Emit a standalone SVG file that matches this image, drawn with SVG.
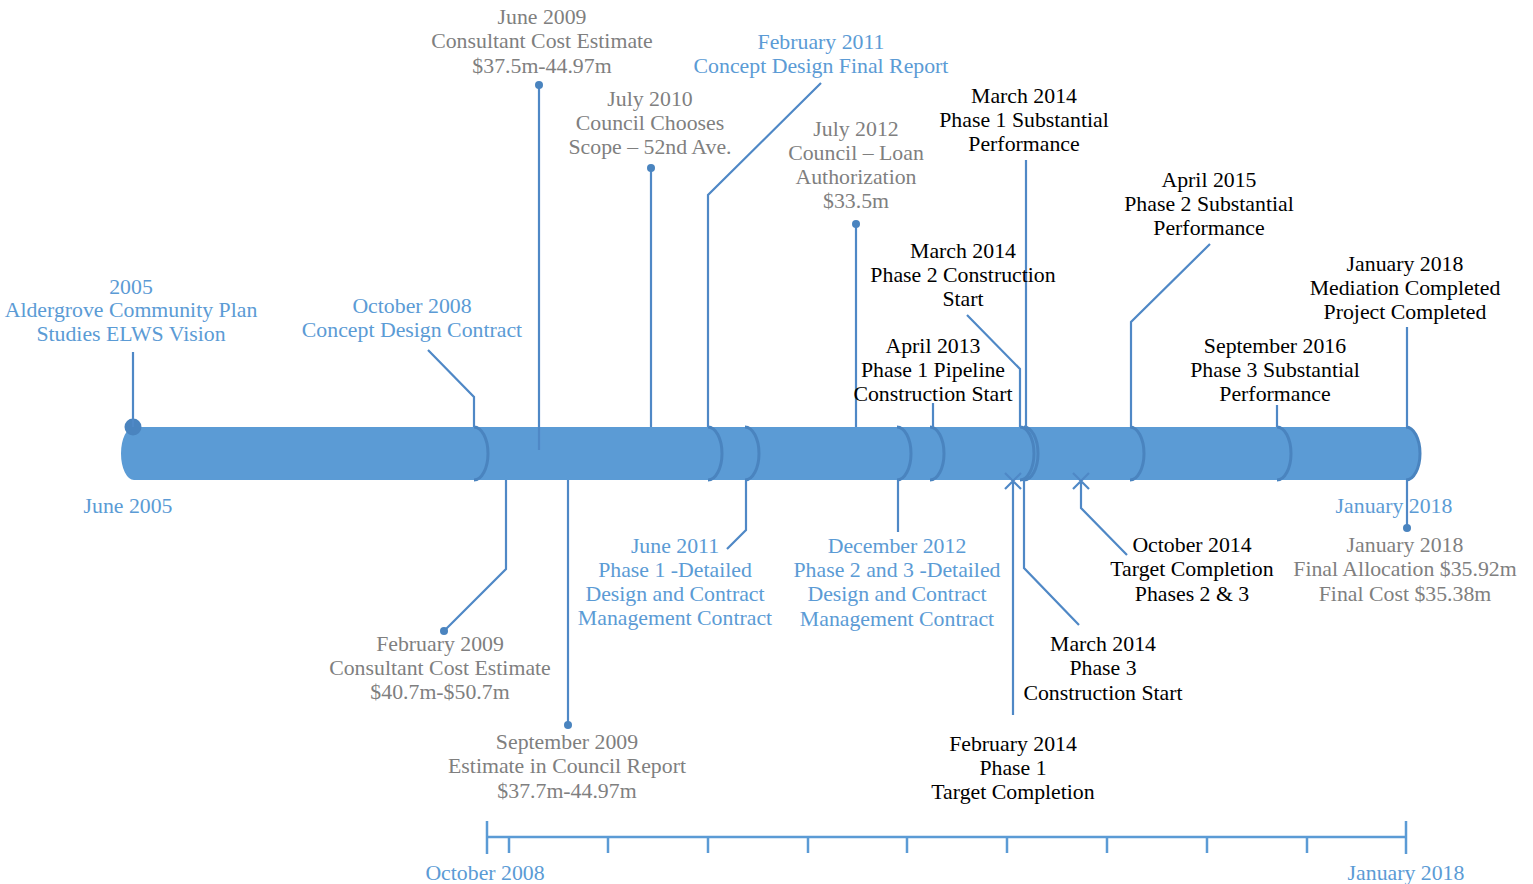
<svg xmlns="http://www.w3.org/2000/svg" width="1533" height="884" viewBox="0 0 1533 884">
<style>
text{font-family:"Liberation Serif","DejaVu Serif",serif;font-size:21.8px;text-anchor:middle}
.b{fill:#5b9bd5}.g{fill:#7f7f7f}.k{fill:#000}
.c{fill:none;stroke:#4f88c6;stroke-width:2.2}
.d{fill:#4a84bf}
.div{fill:none;stroke:#4a84bf;stroke-width:3}
.ax{fill:none;stroke:#5b9bd5;stroke-width:2.5}
</style>
<g id="bar">
<path d="M134,427 L1406,427 A14,26.5 0 0 1 1406,480 L134,480 A13,26.5 0 0 1 134,427 Z" fill="#5b9bd5"/>
<path class="div" d="M474,427 A14,26.5 0 0 1 474,480"/>
<path class="div" d="M708,427 A14,26.5 0 0 1 708,480"/>
<path class="div" d="M745,427 A14,26.5 0 0 1 745,480"/>
<path class="div" d="M897,427 A14,26.5 0 0 1 897,480"/>
<path class="div" d="M930,427 A14,26.5 0 0 1 930,480"/>
<path class="div" d="M1020,427 A14,26.5 0 0 1 1020,480"/>
<path class="div" d="M1024,427 A14,26.5 0 0 1 1024,480"/>
<path class="div" d="M1130,427 A14,26.5 0 0 1 1130,480"/>
<path class="div" d="M1277,427 A14,26.5 0 0 1 1277,480"/>
<path class="div" d="M1406,427 A14,26.5 0 0 1 1406,480"/>
<circle class="d" cx="133" cy="427" r="8.5"/>
</g>
<g id="connectors">
<path class="c" d="M133,352 V427"/>
<path class="c" d="M428,350 L474,397 V427"/>
<path class="c" d="M539,85 V450"/>
<path class="c" d="M651,168 V427"/>
<path class="c" d="M821,83 L708,195 V427"/>
<path class="c" d="M856,224 V427"/>
<path class="c" d="M967,315 L1020,369 V427"/>
<path class="c" d="M1026,160 V427"/>
<path class="c" d="M933,403 V427"/>
<path class="c" d="M1210,244 L1131,322 V427"/>
<path class="c" d="M1277,405 V427"/>
<path class="c" d="M1407,327 V427"/>
<path class="c" d="M444,631 L506,569 V480"/>
<path class="c" d="M568,725 V480"/>
<path class="c" d="M727,549 L746,530 V480"/>
<path class="c" d="M898,480 V532"/>
<path class="c" d="M1013,715 V481 M1005,473 L1021,489 M1021,473 L1005,489"/>
<path class="c" d="M1079,625 L1024,568 V480"/>
<path class="c" d="M1127,555 L1081,508 V481 M1073,473 L1089,489 M1089,473 L1073,489"/>
<path class="c" d="M1407,480 V528"/>
<circle class="d" cx="539" cy="85" r="4"/>
<circle class="d" cx="651" cy="168" r="4"/>
<circle class="d" cx="856" cy="224" r="4"/>
<circle class="d" cx="444" cy="631" r="4"/>
<circle class="d" cx="568" cy="725" r="4"/>
<circle class="d" cx="1407" cy="528" r="4"/>
</g>
<g id="axis">
<path class="ax" d="M487,837 H1406"/>
<path class="ax" d="M487,821 V854 M1406,821 V854 M509,837 V853 M608,837 V853 M708,837 V853 M808,837 V853 M907,837 V853 M1007,837 V853 M1107,837 V853 M1207,837 V853 M1307,837 V853"/>
<text class="b" x="485" y="880">October 2008</text>
<text class="b" x="1406" y="880">January 2018</text>
</g>
<g id="n2005"><text class="b" x="131" y="294">2005</text><text class="b" x="131" y="317">Aldergrove Community Plan</text><text class="b" x="131" y="341">Studies ELWS Vision</text></g>
<g id="nJune2005"><text class="b" x="128" y="513">June 2005</text></g>
<g id="nOct2008"><text class="b" x="412" y="313">October 2008</text><text class="b" x="412" y="337">Concept Design Contract</text></g>
<g id="nJun2009"><text class="g" x="542" y="24">June 2009</text><text class="g" x="542" y="48">Consultant Cost Estimate</text><text class="g" x="542" y="73">$37.5m-44.97m</text></g>
<g id="nFeb2011"><text class="b" x="821" y="49">February 2011</text><text class="b" x="821" y="73">Concept Design Final Report</text></g>
<g id="nJul2010"><text class="g" x="650" y="106">July 2010</text><text class="g" x="650" y="130">Council Chooses</text><text class="g" x="650" y="154">Scope – 52nd Ave.</text></g>
<g id="nJul2012"><text class="g" x="856" y="136">July 2012</text><text class="g" x="856" y="160">Council – Loan</text><text class="g" x="856" y="184">Authorization</text><text class="g" x="856" y="208">$33.5m</text></g>
<g id="nMar2014a"><text class="k" x="1024" y="103">March 2014</text><text class="k" x="1024" y="127">Phase 1 Substantial</text><text class="k" x="1024" y="151">Performance</text></g>
<g id="nApr2015"><text class="k" x="1209" y="187">April 2015</text><text class="k" x="1209" y="211">Phase 2 Substantial</text><text class="k" x="1209" y="235">Performance</text></g>
<g id="nJan2018a"><text class="k" x="1405" y="271">January 2018</text><text class="k" x="1405" y="295">Mediation Completed</text><text class="k" x="1405" y="319">Project Completed</text></g>
<g id="nMar2014b"><text class="k" x="963" y="258">March 2014</text><text class="k" x="963" y="282">Phase 2 Construction</text><text class="k" x="963" y="306">Start</text></g>
<g id="nApr2013"><text class="k" x="933" y="353">April 2013</text><text class="k" x="933" y="377">Phase 1 Pipeline</text><text class="k" x="933" y="401">Construction Start</text></g>
<g id="nSep2016"><text class="k" x="1275" y="353">September 2016</text><text class="k" x="1275" y="377">Phase 3 Substantial</text><text class="k" x="1275" y="401">Performance</text></g>
<g id="nJan2018b"><text class="b" x="1394" y="513">January 2018</text></g>
<g id="nJan2018c"><text class="g" x="1405" y="552">January 2018</text><text class="g" x="1405" y="576">Final Allocation $35.92m</text><text class="g" x="1405" y="601">Final Cost $35.38m</text></g>
<g id="nJun2011"><text class="b" x="675" y="553">June 2011</text><text class="b" x="675" y="577">Phase 1 -Detailed</text><text class="b" x="675" y="601">Design and Contract</text><text class="b" x="675" y="625">Management Contract</text></g>
<g id="nDec2012"><text class="b" x="897" y="553">December 2012</text><text class="b" x="897" y="577">Phase 2 and 3 -Detailed</text><text class="b" x="897" y="601">Design and Contract</text><text class="b" x="897" y="626">Management Contract</text></g>
<g id="nOct2014"><text class="k" x="1192" y="552">October 2014</text><text class="k" x="1192" y="576">Target Completion</text><text class="k" x="1192" y="601">Phases 2 &amp; 3</text></g>
<g id="nFeb2009"><text class="g" x="440" y="651">February 2009</text><text class="g" x="440" y="675">Consultant Cost Estimate</text><text class="g" x="440" y="699">$40.7m-$50.7m</text></g>
<g id="nMar2014c"><text class="k" x="1103" y="651">March 2014</text><text class="k" x="1103" y="675">Phase 3</text><text class="k" x="1103" y="700">Construction Start</text></g>
<g id="nSep2009"><text class="g" x="567" y="749">September 2009</text><text class="g" x="567" y="773">Estimate in Council Report</text><text class="g" x="567" y="798">$37.7m-44.97m</text></g>
<g id="nFeb2014"><text class="k" x="1013" y="751">February 2014</text><text class="k" x="1013" y="775">Phase 1</text><text class="k" x="1013" y="799">Target Completion</text></g>
</svg>
